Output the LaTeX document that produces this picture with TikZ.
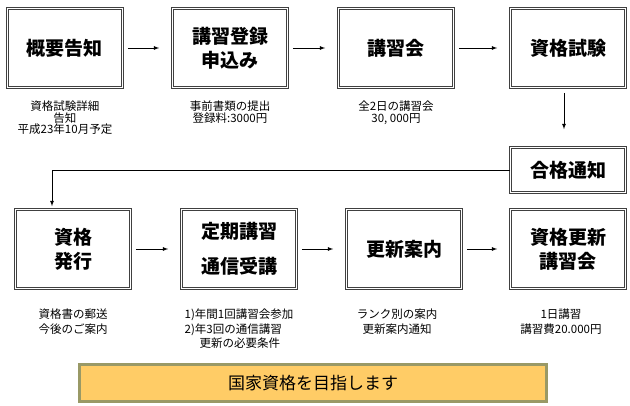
\documentclass[tikz,border=0pt]{standalone}
\usepackage{fontspec}
\setmainfont{Noto Sans CJK JP}
\usepackage{xcolor}
\usetikzlibrary{arrows,positioning,calc}
\definecolor{bannerfill}{RGB}{255,204,102}
\definecolor{bannerline}{RGB}{153,153,102}

\begin{document}
\begin{tikzpicture}[
    x=1pt, y=-1pt,
    box/.style={rectangle, draw=black!75, double, double distance=1.1pt, line width=0.7pt,
        minimum width=115pt, minimum height=79pt, inner sep=0pt, align=center,
        font=\fontsize{19}{24}\selectfont\bfseries},
    note/.style={align=center, inner sep=0pt, font=\fontsize{11.5}{11.5}\selectfont},
    note2/.style={note, font=\fontsize{11.5}{14.5}\selectfont},
    arrow/.style={->, >=latex, line width=0.8pt, shorten <=5pt, shorten >=13pt},
    banner/.style={rectangle, draw=bannerline, line width=2.5pt, fill=bannerfill,
        minimum width=467pt, minimum height=37pt, font=\fontsize{17}{17}\selectfont}
]
\useasboundingbox (0,0) rectangle (630,406);

% first row
\node[box] (gaiyou) at (65,48) {概要告知};
\node[box] (touroku) at (230,48) {講習登録\\申込み};
\node[box] (koushuu) at (396,48) {講習会};
\node[box] (shiken) at (568,48) {資格試験};
\node[box, minimum height=45pt] (goukaku) at (568,170) {合格通知};

\node[note, below=13pt of gaiyou] (n1) {資格試験詳細\\告知\\平成23年10月予定};
\node[note, below=13pt of touroku] (n2) {事前書類の提出\\登録料:3000円};
\node[note, below=13pt of koushuu] (n3) {全2日の講習会\\30, 000円};

% second row
\node[box] (hakkou) at (73,249) {資格\\発行};
\node[box, font=\fontsize{19}{35}\selectfont\bfseries] (teiki) at (239,249) {定期講習\\通信受講};
\node[box] (annai) at (404,249) {更新案内};
\node[box] (koushin) at (568,249) {資格更新\\講習会};

\node[note2, below=20pt of hakkou] (n5) {資格書の郵送\\今後のご案内};
\node[note2, below=20pt of teiki, align=left] (n6) {1)年間1回講習会参加\\2)年3回の通信講習\\\hspace*{1.3em}更新の必要条件};
\node[note2, below=20pt of annai, xshift=-7pt] (n7) {ランク別の案内\\更新案内通知};
\node[note2, below=20pt of koushin, xshift=-7pt] (n8) {1日講習\\講習費20.000円};

\node[banner] (mokuhyou) at (313,383) {国家資格を目指します};

\draw[arrow] (gaiyou) -- (touroku);
\draw[arrow] (touroku) -- (koushuu);
\draw[arrow] (koushuu) -- (shiken);
\draw[arrow, shorten >=18pt] ([xshift=-4pt]shiken.south) -- ([xshift=-4pt]goukaku.north);
\draw[arrow, shorten <=0pt, shorten >=3pt] (goukaku.west) -| ([xshift=-21pt]hakkou.north);
\draw[arrow] (hakkou) -- (teiki);
\draw[arrow] (teiki) -- (annai);
\draw[arrow] (annai) -- (koushin);
\end{tikzpicture}
\end{document}
